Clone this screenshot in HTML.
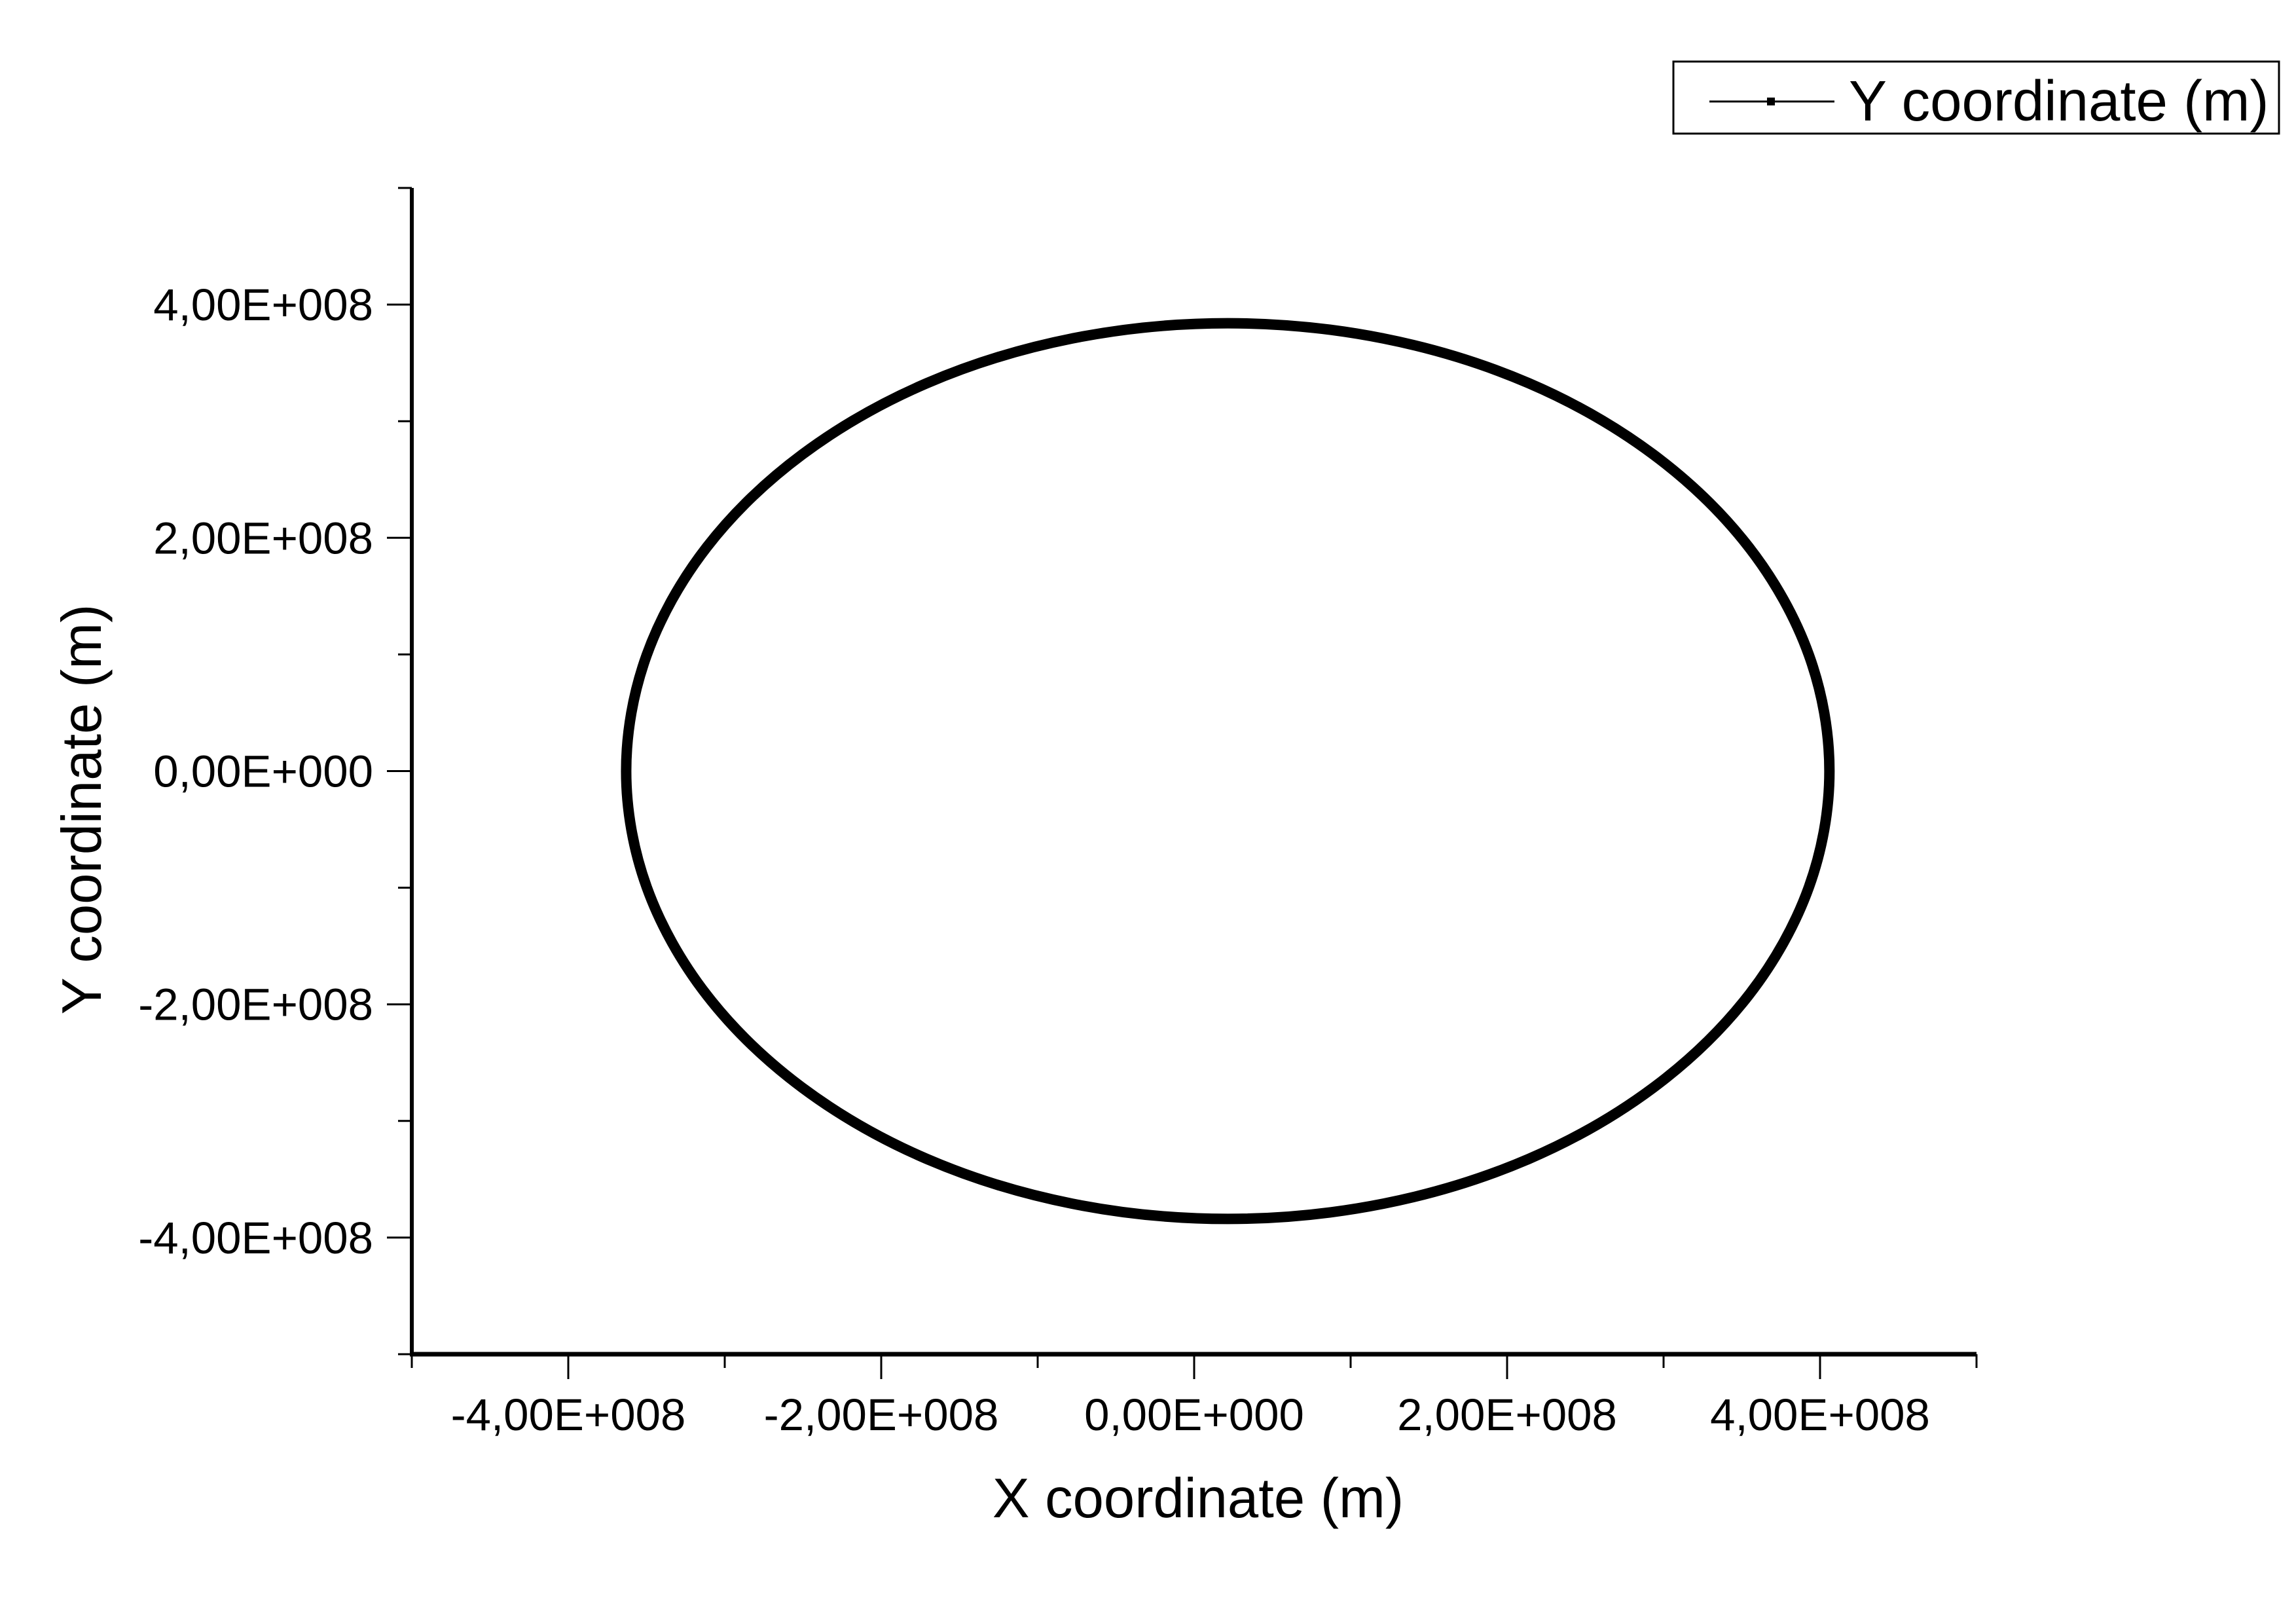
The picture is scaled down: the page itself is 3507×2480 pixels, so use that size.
<!DOCTYPE html>
<html><head><meta charset="utf-8"><style>
html,body{margin:0;padding:0;background:#fff;}
svg{display:block;font-family:"Liberation Sans",Arial,sans-serif;}
</style></head><body>
<svg id="chart" width="3507" height="2480" viewBox="0 0 3507 2480">
  <rect width="3507" height="2480" fill="#fff"/>
  <g id="axes"></g>
  <path id="orbit" fill="none" stroke="#000" stroke-width="16" stroke-linejoin="round"/>
  <text x="1830" y="2317" font-size="85" text-anchor="middle">X coordinate (m)</text>
  <text transform="translate(154,1236) rotate(-90)" font-size="85" text-anchor="middle">Y coordinate (m)</text>
  <g>
    <rect x="2556" y="94" width="925" height="110" fill="#fff" stroke="#000" stroke-width="3"/>
    <line x1="2611" y1="155" x2="2802" y2="155" stroke="#000" stroke-width="3"/>
    <rect x="2699" y="149" width="12" height="12" fill="#000"/>
    <text x="2824" y="184" font-size="87">Y coordinate (m)</text>
  </g>
</svg>
<script>
const xTicks = [-4e8, -2e8, 0, 2e8, 4e8];
const xTickLabels = ["-4,00E+008", "-2,00E+008", "0,00E+000", "2,00E+008", "4,00E+008"];
const yTicks = [-4e8, -2e8, 0, 2e8, 4e8];
const yTickLabels = ["-4,00E+008", "-2,00E+008", "0,00E+000", "2,00E+008", "4,00E+008"];
const orbitX = [4.06e8, 3.929e8, 3.545e8, 2.934e8, 2.138e8, 1.211e8, 0.215e8, -0.781e8, -1.708e8, -2.504e8, -3.115e8, -3.499e8, -3.63e8,
                -3.499e8, -3.115e8, -2.504e8, -1.708e8, -0.781e8, 0.215e8, 1.211e8, 2.138e8, 2.934e8, 3.545e8, 3.929e8];
const orbitY = [0, 0.994e8, 1.92e8, 2.715e8, 3.326e8, 3.709e8, 3.84e8, 3.709e8, 3.326e8, 2.715e8, 1.92e8, 0.994e8, 0,
                -0.994e8, -1.92e8, -2.715e8, -3.326e8, -3.709e8, -3.84e8, -3.709e8, -3.326e8, -2.715e8, -1.92e8, -0.994e8];

const X0 = 629, X1 = 3019, Y0 = 2068, Y1 = 287;
const xMin = -5e8, xMax = 5e8, yMin = -5e8, yMax = 5e8;
const sx = v => X0 + (v - xMin) / (xMax - xMin) * (X1 - X0);
const sy = v => Y0 - (v - yMin) / (yMax - yMin) * (Y0 - Y1);
const NS = "http://www.w3.org/2000/svg";
const axes = document.getElementById("axes");
function mk(tag, attrs) {
  const e = document.createElementNS(NS, tag);
  for (const k in attrs) e.setAttribute(k, attrs[k]);
  axes.appendChild(e);
  return e;
}
let el;
el = mk("line", {x1: X0, y1: Y1, x2: X0, y2: Y0 + 3, stroke: "#000", "stroke-width": 6});


el = mk("line", {x1: X0 - 3, y1: Y0, x2: X1, y2: Y0, stroke: "#000", "stroke-width": 7});


for (let v = xMin; v <= xMax + 1; v += 1e8) {
  const major = Math.abs(Math.round(v / 1e8)) % 2 === 0 && Math.abs(v) < 5e8;
  el = mk("line", {x1: sx(v), y1: Y0, x2: sx(v), y2: Y0 + (major ? 38 : 21), stroke: "#000", "stroke-width": 3});
  
  
}
for (let v = yMin; v <= yMax + 1; v += 1e8) {
  const major = Math.abs(Math.round(v / 1e8)) % 2 === 0 && Math.abs(v) < 5e8;
  el = mk("line", {x1: X0, y1: sy(v), x2: X0 - (major ? 38 : 21), y2: sy(v), stroke: "#000", "stroke-width": 3});
  
  
}
xTicks.forEach((v, i) => {
  const t = mk("text", {x: sx(v), y: 2184, "font-size": 69, "text-anchor": "middle"});
  t.textContent = xTickLabels[i];
  
  
});
yTicks.forEach((v, i) => {
  const t = mk("text", {x: 570, y: sy(v) + 24, "font-size": 69, "text-anchor": "end"});
  t.textContent = yTickLabels[i];
  
  
});
const pts = orbitX.map((x, i) => [sx(x), sy(orbitY[i])]);
const n = pts.length;
let d = `M${pts[0][0]},${pts[0][1]}`;
for (let i = 0; i < n; i++) {
  const p0 = pts[(i - 1 + n) % n], p1 = pts[i], p2 = pts[(i + 1) % n], p3 = pts[(i + 2) % n];
  const c1 = [p1[0] + (p2[0] - p0[0]) / 6, p1[1] + (p2[1] - p0[1]) / 6];
  const c2 = [p2[0] - (p3[0] - p1[0]) / 6, p2[1] - (p3[1] - p1[1]) / 6];
  d += ` C${c1[0]},${c1[1]} ${c2[0]},${c2[1]} ${p2[0]},${p2[1]}`;
}
document.getElementById("orbit").setAttribute("d", d + " Z");
</script>
</body></html>
